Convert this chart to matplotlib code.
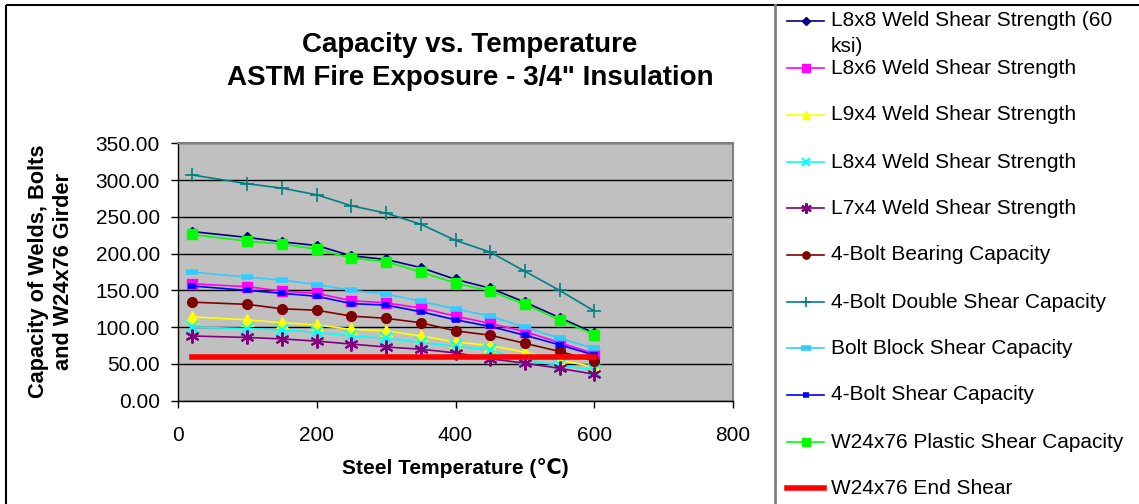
import matplotlib
matplotlib.use("Agg")
import matplotlib.pyplot as plt
from matplotlib.lines import Line2D
from matplotlib.patches import Rectangle

plt.rcParams['font.family'] = ['Liberation Sans', 'DejaVu Sans']

# Steel temperature (deg C)
temps = [20, 100, 150, 200, 250, 300, 350, 400, 450, 500, 550, 600]

# Capacities (kips)
l8x8_weld = [230, 222, 216, 211, 197, 192, 181, 165, 153, 134, 113, 92]
l8x6_weld = [159, 155, 149, 146, 136, 133, 126, 115, 105, 94, 79, 64]
l9x4_weld = [114, 110, 106, 103, 97, 95, 88, 80, 75, 66, 55, 46]
l8x4_weld = [100, 98, 96, 93, 88, 85, 79, 74, 69, 55, 48, 42]
l7x4_weld = [88, 86, 84, 81, 77, 73, 70, 65, 57, 51, 44, 36]
bolt_bearing = [134, 131, 125, 123, 115, 112, 106, 95, 89, 78, 67, 54]
bolt_double_shear = [307, 295, 289, 280, 265, 255, 240, 218, 202, 176, 150, 122]
bolt_block_shear = [175, 168, 164, 158, 150, 145, 135, 125, 115, 100, 85, 71]
bolt_shear = [156, 150, 146, 142, 132, 130, 121, 110, 101, 89, 76, 62]
plastic_shear = [226, 217, 213, 206, 194, 189, 175, 160, 149, 131, 110, 90]
end_shear = [60, 60, 60, 60, 60, 60, 60, 60, 60, 60, 60, 60]

labels = [
    "L8x8 Weld Shear Strength (60\nksi)",
    "L8x6 Weld Shear Strength",
    "L9x4 Weld Shear Strength",
    "L8x4 Weld Shear Strength",
    "L7x4 Weld Shear Strength",
    "4-Bolt Bearing Capacity",
    "4-Bolt Double Shear Capacity",
    "Bolt Block Shear Capacity",
    "4-Bolt Shear Capacity",
    "W24x76 Plastic Shear Capacity",
    "W24x76 End Shear",
]

x_ticks = [0, 200, 400, 600, 800]
y_ticks = [0, 50, 100, 150, 200, 250, 300, 350]

series = [l8x8_weld, l8x6_weld, l9x4_weld, l8x4_weld, l7x4_weld,
          bolt_bearing, bolt_double_shear, bolt_block_shear, bolt_shear,
          plastic_shear, end_shear]

styles = [
    dict(color="#000080", marker="D", ms=5, mfc="#000080", mec="#000080", lw=1.2),
    dict(color="#FF00FF", marker="s", ms=7, mfc="#FF00FF", mec="#FF00FF", lw=1.2),
    dict(color="#FFFF00", marker="^", ms=8, mfc="#FFFF00", mec="#FFFF00", lw=1.2),
    dict(color="#00FFFF", marker="x", ms=8, mew=1.5, lw=1.2),
    dict(color="#800080", marker=(6, 2, 0), ms=10, mew=1.5, lw=1.2),
    dict(color="#800000", marker="o", ms=7, mfc="#800000", mec="#800000", lw=1.2),
    dict(color="#008080", marker="+", ms=10, mew=1.2, lw=1.2),
    dict(color="#33CCFF", marker="_", ms=9, mew=4, lw=1.2),
    dict(color="#0000FF", marker="_", ms=6, mew=4, lw=1.2),
    dict(color="#00FF00", marker="s", ms=7, mfc="#00FF00", mec="#00FF00", lw=1.2),
    dict(color="#FF0000", marker=None, lw=4),
]

W, H = 1139, 504
fig = plt.figure(figsize=(W / 100, H / 100), dpi=100)

ax = fig.add_axes([178 / W, 1 - 400.7 / H, 555 / W, 257.4 / H])
ax.set_facecolor("#C0C0C0")
for vals, st in zip(series, styles):
    ax.plot(temps, vals, clip_on=False, **st)

ax.set_xlim(0, 800)
ax.set_ylim(0, 350)
ax.set_xticks(x_ticks)
ax.set_xticklabels([str(t) for t in x_ticks])
ax.set_yticks(y_ticks)
ax.set_yticklabels([f"{t:.2f}" for t in y_ticks])
ax.tick_params(axis="both", direction="out", length=5, width=1, labelsize=15, colors="black")
ax.tick_params(axis="y", pad=8)
ax.tick_params(axis="x", pad=13)
ax.yaxis.grid(True, color="black", lw=1)
ax.set_axisbelow(True)
for side in ("top", "right"):
    ax.spines[side].set_color("#808080")
    ax.spines[side].set_linewidth(1.5)
for side in ("left", "bottom"):
    ax.spines[side].set_color("black")
    ax.spines[side].set_linewidth(1)

# Overlay in pixel coordinates for titles, frame and legend
ov = fig.add_axes([0, 0, 1, 1], zorder=5)
ov.set_xlim(0, W)
ov.set_ylim(H, 0)
ov.axis("off")
ov.patch.set_alpha(0)

ov.text(470, 45, "Capacity vs. Temperature", ha="center", va="center",
        fontsize=20, fontweight="bold")
ov.text(470, 78, "ASTM Fire Exposure - 3/4\" Insulation", ha="center", va="center",
        fontsize=20, fontweight="bold")
ov.text(51, 271, "Capacity of Welds, Bolts\nand W24x76 Girder", ha="center", va="center",
        rotation=90, fontsize=15.7, fontweight="bold", linespacing=1.2)
ov.text(455, 468, "Steel Temperature (\u2103)", ha="center", va="center",
        fontsize=15, fontweight="bold")

# Chart frame and legend box
ov.add_patch(Rectangle((6, 5), W, H, fill=False, ec="black", lw=1.5))
ov.plot([775, 775], [5, H], color="#808080", lw=2)

row_y = [21, 68, 115, 162, 208, 255, 302, 348, 395, 442, 488]
for lab, st, y in zip(labels, styles, row_y):
    kw = dict(st)
    marker = kw.pop("marker")
    ms = kw.pop("ms", 0)
    ov.add_line(Line2D([787, 824], [y, y], color=kw["color"], lw=kw.get("lw", 1.2)))
    if marker is not None:
        mkw = {k: v for k, v in kw.items() if k in ("mfc", "mec", "mew")}
        ov.add_line(Line2D([805.5], [y], color=kw["color"], marker=marker,
                           ms=ms * 0.75, ls="none", **mkw))
    if "\n" in lab:
        first, second = lab.split("\n")
        ov.text(831, y, first, ha="left", va="center", fontsize=15)
        ov.text(831, y + 26, second, ha="left", va="center", fontsize=15)
    else:
        ov.text(831, y, lab, ha="left", va="center", fontsize=15)

fig.savefig("out.png", dpi=100)
